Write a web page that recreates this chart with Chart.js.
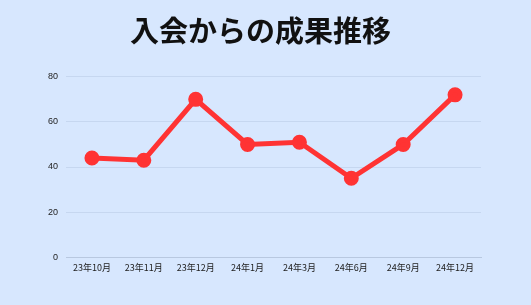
<!DOCTYPE html>
<html>
<head>
<meta charset="utf-8">
<script src="https://cdn.jsdelivr.net/npm/chart.js@4"></script>
<style>
  html, body { margin: 0; padding: 0; background: #d7e7fe; }
  #wrap { width: 531px; height: 305px; }
</style>
</head>
<body>
<div id="wrap"><canvas id="result-chart"></canvas></div>
<script>
const labels = ["23年10月", "23年11月", "23年12月", "24年1月", "24年3月", "24年6月", "24年9月", "24年12月"];
const results = [44, 43, 70, 50, 51, 35, 50, 72];
const yTicks = [0, 20, 40, 60, 80];

const resultChart = document.getElementById("result-chart");

new Chart(resultChart, {
  type: "line",
  data: {
    labels: labels,
    datasets: [
      {
        label: "成果",
        data: results,
        borderColor: "#ff3333",
        backgroundColor: "#ff3333",
        borderWidth: 5,
        pointRadius: 5,
        pointHoverRadius: 5,
        tension: 0,
      },
    ],
  },
  options: {
    responsive: true,
    maintainAspectRatio: false,
    animation: false,
    layout: {
      padding: { left: 40, right: 50, top: 14, bottom: 27 },
    },
    plugins: {
      legend: { display: false },
      title: {
        display: true,
        text: "入会からの成果推移",
        color: "#111",
        font: { family: "Noto Sans CJK JP", size: 29, weight: "bold" },
        padding: { top: 0, bottom: 28 },
      },
    },
    scales: {
      x: {
        offset: true,
        grid: { display: false, drawTicks: false },
        border: { color: "#b8c8e0" },
        ticks: {
          color: "#222",
          font: { family: "Noto Sans CJK JP", size: 9 },
          padding: 5,
          maxRotation: 0,
        },
      },
      y: {
        min: 0,
        max: yTicks[yTicks.length - 1],
        afterBuildTicks: (axis) => {
          axis.ticks = yTicks.map((v) => ({ value: v }));
        },
        grid: { color: "#c6d7f0", drawTicks: false },
        border: { display: false },
        ticks: {
          color: "#222",
          font: { family: "Liberation Sans", size: 9 },
          padding: 8,
        },
      },
    },
  },
});
</script>
</body>
</html>
